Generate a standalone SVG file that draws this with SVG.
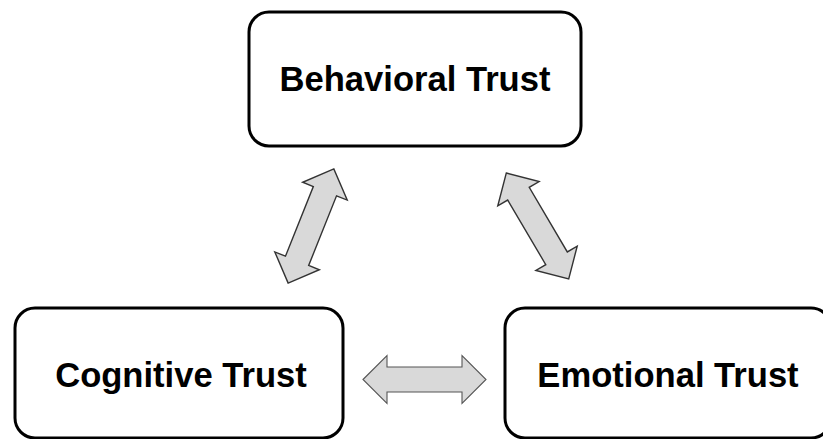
<svg xmlns="http://www.w3.org/2000/svg" xmlns:xlink="http://www.w3.org/1999/xlink" width="823" height="439" viewBox="0 0 823 439">
  <style>
    .box { fill: #ffffff; stroke: #000000; stroke-width: 3; }
    .label { font-family: "Liberation Sans", Arial, sans-serif; font-weight: bold; font-size: 34.6px; fill: #000000; text-anchor: middle; }
    .arrow { fill: #d9d9d9; stroke: #333333; stroke-width: 1.4; stroke-linejoin: miter; }
  </style>
  <defs>
    <path id="dblArrow" d="M-61.5,0 L-37.5,-24 L-37.5,-12.5 L37.5,-12.5 L37.5,-24 L61.5,0 L37.5,24 L37.5,12.5 L-37.5,12.5 L-37.5,24 Z"/>
  </defs>
  <rect width="823" height="439" fill="#ffffff"/>
  <g id="connectors">
    <use xlink:href="#dblArrow" class="arrow" transform="translate(311,226) rotate(-68.2)"/>
    <use xlink:href="#dblArrow" class="arrow" transform="translate(537.5,226) rotate(59.5)"/>
    <use xlink:href="#dblArrow" class="arrow" style="stroke:#555555;stroke-width:1.1" transform="translate(424.5,379.5)"/>
  </g>
  <g id="behavioral">
    <rect class="box" x="249" y="12" width="332" height="134" rx="20" ry="20"/>
    <text class="label" x="415" y="91">Behavioral Trust</text>
  </g>
  <g id="cognitive">
    <rect class="box" x="15" y="308" width="328" height="130" rx="20" ry="20"/>
    <text class="label" x="181" y="387">Cognitive Trust</text>
  </g>
  <g id="emotional">
    <rect class="box" x="505" y="308" width="326" height="130" rx="20" ry="20"/>
    <text class="label" x="668" y="387">Emotional Trust</text>
  </g>
</svg>
